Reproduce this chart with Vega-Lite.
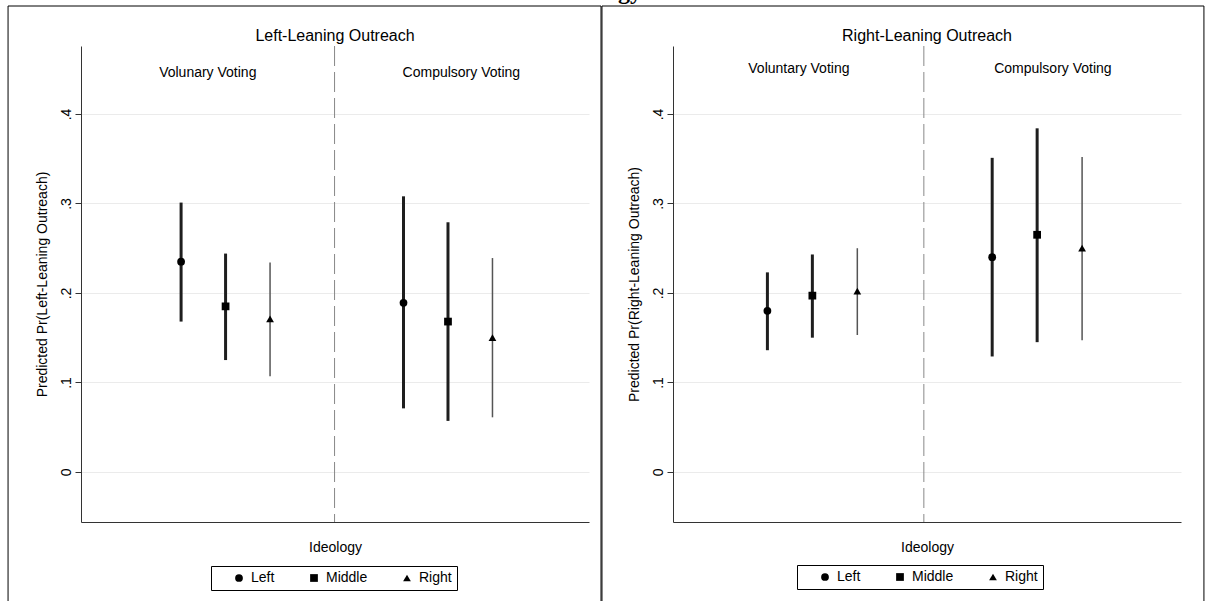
{
  "$schema": "https://vega.github.io/schema/vega-lite/v6.json",
  "padding": {"left": 7, "top": -21, "right": 0, "bottom": 0},
  "background": "white",
  "bounds": "flush",
  "spacing": 84,
  "title": {"text": "Ideology", "font": "Liberation Serif", "fontWeight": "bold", "fontSize": 24, "offset": 2, "anchor": "middle", "dx": -8, "color": "black"},
  "config": {
    "font": "Liberation Sans",
    "view": {"stroke": null},
    "axis": {"labelColor": "black", "titleColor": "black", "titleFontWeight": "normal", "domainColor": "#333", "tickColor": "#333"}
  },
  "datasets": {
    "one": [{}],
    "est": [
      {"panel": "Left", "ideology": "Left", "pos": 1, "est": 0.235, "lo": 0.168, "hi": 0.301},
      {"panel": "Left", "ideology": "Middle", "pos": 2, "est": 0.185, "lo": 0.125, "hi": 0.244},
      {"panel": "Left", "ideology": "Right", "pos": 3, "est": 0.171, "lo": 0.107, "hi": 0.234},
      {"panel": "Left", "ideology": "Left", "pos": 6, "est": 0.189, "lo": 0.071, "hi": 0.308},
      {"panel": "Left", "ideology": "Middle", "pos": 7, "est": 0.168, "lo": 0.057, "hi": 0.279},
      {"panel": "Left", "ideology": "Right", "pos": 8, "est": 0.150, "lo": 0.061, "hi": 0.239},
      {"panel": "Right", "ideology": "Left", "pos": 1, "est": 0.180, "lo": 0.136, "hi": 0.223},
      {"panel": "Right", "ideology": "Middle", "pos": 2, "est": 0.197, "lo": 0.150, "hi": 0.243},
      {"panel": "Right", "ideology": "Right", "pos": 3, "est": 0.202, "lo": 0.153, "hi": 0.250},
      {"panel": "Right", "ideology": "Left", "pos": 6, "est": 0.240, "lo": 0.129, "hi": 0.351},
      {"panel": "Right", "ideology": "Middle", "pos": 7, "est": 0.265, "lo": 0.145, "hi": 0.384},
      {"panel": "Right", "ideology": "Right", "pos": 8, "est": 0.250, "lo": 0.147, "hi": 0.352}
    ]
  },
  "resolve": {"scale": {"x": "independent", "y": "independent", "shape": "independent"}, "legend": {"shape": "independent"}},
  "hconcat": [
    {
      "width": 508,
      "height": 476,
      "title": {"text": "Left-Leaning Outreach", "frame": "group", "offset": -38, "fontWeight": "normal", "fontSize": 16, "color": "black", "font": "Liberation Sans"},
      "layer": [
        {
          "data": {"name": "one"},
          "mark": {"type": "rect", "fillOpacity": 0, "stroke": "black", "strokeWidth": 1},
          "encoding": {
            "x": {"datum": -2.89, "type": "quantitative", "scale": {"domain": [-1.25, 10.17], "nice": false, "zero": false}, "axis": {"labels": false, "ticks": false, "grid": false, "title": "Ideology", "titleFontSize": 14, "titlePadding": 18}},
            "x2": {"datum": 10.44},
            "y": {"datum": 0.5207, "type": "quantitative", "scale": {"domain": [-0.056, 0.476], "nice": false, "zero": false}, "axis": {"values": [0, 0.1, 0.2, 0.3, 0.4], "labelExpr": "datum.value == 0 ? '0' : replace(format(datum.value, '.1f'), '0.', '.')", "labelAngle": -90, "labelAlign": "center", "labelBaseline": "bottom", "labelFontSize": 14, "labelPadding": 2, "tickSize": 6, "grid": true, "gridColor": "#ebebeb", "title": "Predicted Pr(Left-Leaning Outreach)", "titleFontSize": 14, "titlePadding": 10}},
            "y2": {"datum": -0.16}
          }
        },
        {
          "data": {"name": "one"},
          "mark": {"type": "rule", "color": "#888", "strokeDash": [20, 6], "strokeWidth": 1},
          "encoding": {"x": {"datum": 4.45, "type": "quantitative"}}
        },
        {
          "data": {"name": "one"},
          "mark": {"type": "text", "fontSize": 14, "baseline": "middle", "align": "center", "color": "black"},
          "encoding": {"x": {"datum": 1.6, "type": "quantitative"}, "y": {"datum": 0.446, "type": "quantitative"}, "text": {"value": "Volunary Voting"}}
        },
        {
          "data": {"name": "one"},
          "mark": {"type": "text", "fontSize": 14, "baseline": "middle", "align": "center", "color": "black"},
          "encoding": {"x": {"datum": 7.3, "type": "quantitative"}, "y": {"datum": 0.446, "type": "quantitative"}, "text": {"value": "Compulsory Voting"}}
        },
        {
          "data": {"name": "est"},
          "transform": [{"filter": "datum.panel == 'Left' && datum.ideology != 'Right'"}],
          "mark": {"type": "rule", "strokeWidth": 3, "color": "#1e1e1e"},
          "encoding": {
            "x": {"field": "pos", "type": "quantitative"},
            "y": {"field": "lo", "type": "quantitative"},
            "y2": {"field": "hi"}
          }
        },
        {
          "data": {"name": "est"},
          "transform": [{"filter": "datum.panel == 'Left' && datum.ideology == 'Right'"}],
          "mark": {"type": "rule", "strokeWidth": 1.5, "color": "#555555"},
          "encoding": {
            "x": {"field": "pos", "type": "quantitative"},
            "y": {"field": "lo", "type": "quantitative"},
            "y2": {"field": "hi"}
          }
        },
        {
          "data": {"name": "est"},
          "transform": [{"filter": "datum.panel == 'Left'"}],
          "mark": {"type": "point", "filled": true, "color": "black", "opacity": 1, "size": 60},
          "encoding": {
            "x": {"field": "pos", "type": "quantitative"},
            "y": {"field": "est", "type": "quantitative"},
            "shape": {"field": "ideology", "type": "nominal", "scale": {"domain": ["Left", "Middle", "Right"], "range": ["circle", "square", "triangle-up"]},
              "legend": {"title": null, "orient": "none", "legendX": 130, "legendY": 520, "direction": "horizontal", "strokeColor": "black", "padding": 5, "labelFontSize": 14, "labelColor": "black", "symbolSize": 60, "symbolFillColor": "black", "symbolStrokeColor": "black", "symbolOffset": 16, "labelOffset": 5, "columnPadding": 16}}
          }
        }
      ]
    },
    {
      "width": 508,
      "height": 476,
      "title": {"text": "Right-Leaning Outreach", "frame": "group", "offset": -38, "fontWeight": "normal", "fontSize": 16, "color": "black", "font": "Liberation Sans"},
      "layer": [
        {
          "data": {"name": "one"},
          "mark": {"type": "rect", "fillOpacity": 0, "stroke": "black", "strokeWidth": 1},
          "encoding": {
            "x": {"datum": -2.68, "type": "quantitative", "scale": {"domain": [-1.1, 10.2], "nice": false, "zero": false}, "axis": {"labels": false, "ticks": false, "grid": false, "title": "Ideology", "titleFontSize": 14, "titlePadding": 18}},
            "x2": {"datum": 10.71},
            "y": {"datum": 0.5207, "type": "quantitative", "scale": {"domain": [-0.056, 0.476], "nice": false, "zero": false}, "axis": {"values": [0, 0.1, 0.2, 0.3, 0.4], "labelExpr": "datum.value == 0 ? '0' : replace(format(datum.value, '.1f'), '0.', '.')", "labelAngle": -90, "labelAlign": "center", "labelBaseline": "bottom", "labelFontSize": 14, "labelPadding": 2, "tickSize": 6, "grid": true, "gridColor": "#ebebeb", "title": "Predicted Pr(Right-Leaning Outreach)", "titleFontSize": 14, "titlePadding": 10}},
            "y2": {"datum": -0.16}
          }
        },
        {
          "data": {"name": "one"},
          "mark": {"type": "rule", "color": "#888", "strokeDash": [20, 6], "strokeWidth": 1},
          "encoding": {"x": {"datum": 4.48, "type": "quantitative"}}
        },
        {
          "data": {"name": "one"},
          "mark": {"type": "text", "fontSize": 14, "baseline": "middle", "align": "center", "color": "black"},
          "encoding": {"x": {"datum": 1.7, "type": "quantitative"}, "y": {"datum": 0.45, "type": "quantitative"}, "text": {"value": "Voluntary Voting"}}
        },
        {
          "data": {"name": "one"},
          "mark": {"type": "text", "fontSize": 14, "baseline": "middle", "align": "center", "color": "black"},
          "encoding": {"x": {"datum": 7.35, "type": "quantitative"}, "y": {"datum": 0.45, "type": "quantitative"}, "text": {"value": "Compulsory Voting"}}
        },
        {
          "data": {"name": "est"},
          "transform": [{"filter": "datum.panel == 'Right' && datum.ideology != 'Right'"}],
          "mark": {"type": "rule", "strokeWidth": 3, "color": "#1e1e1e"},
          "encoding": {
            "x": {"field": "pos", "type": "quantitative"},
            "y": {"field": "lo", "type": "quantitative"},
            "y2": {"field": "hi"}
          }
        },
        {
          "data": {"name": "est"},
          "transform": [{"filter": "datum.panel == 'Right' && datum.ideology == 'Right'"}],
          "mark": {"type": "rule", "strokeWidth": 1.5, "color": "#555555"},
          "encoding": {
            "x": {"field": "pos", "type": "quantitative"},
            "y": {"field": "lo", "type": "quantitative"},
            "y2": {"field": "hi"}
          }
        },
        {
          "data": {"name": "est"},
          "transform": [{"filter": "datum.panel == 'Right'"}],
          "mark": {"type": "point", "filled": true, "color": "black", "opacity": 1, "size": 60},
          "encoding": {
            "x": {"field": "pos", "type": "quantitative"},
            "y": {"field": "est", "type": "quantitative"},
            "shape": {"field": "ideology", "type": "nominal", "scale": {"domain": ["Left", "Middle", "Right"], "range": ["circle", "square", "triangle-up"]},
              "legend": {"title": null, "orient": "none", "legendX": 124, "legendY": 519, "direction": "horizontal", "strokeColor": "black", "padding": 5, "labelFontSize": 14, "labelColor": "black", "symbolSize": 60, "symbolFillColor": "black", "symbolStrokeColor": "black", "symbolOffset": 16, "labelOffset": 5, "columnPadding": 16}}
          }
        }
      ]
    }
  ]
}
